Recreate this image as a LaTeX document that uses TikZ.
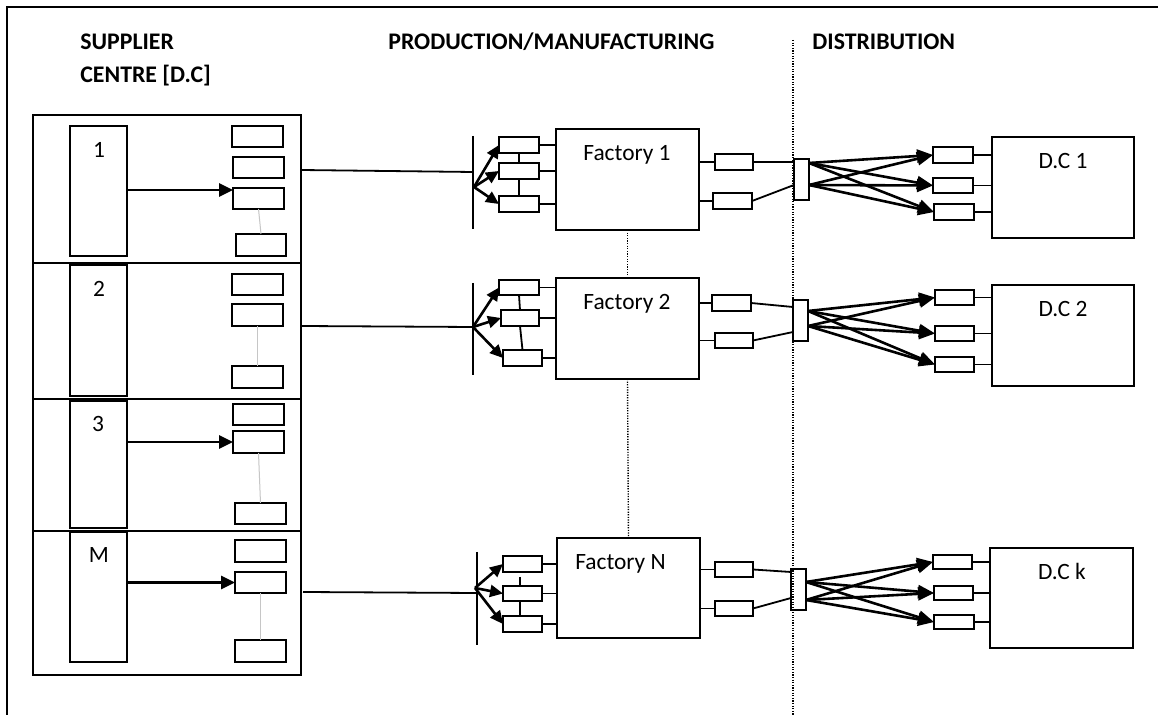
\documentclass[tikz,border=0pt]{standalone}
\usepackage{fontspec}
\setmainfont{Carlito}
\usetikzlibrary{arrows.meta}
\newcommand\bx[6][bx]{\node[#1,minimum width={(#5-#3)*0.5pt},minimum height={(#6-#4)*0.5pt}] (#2) at ({(#3+#5)/2},{(#4+#6)/2}) {};}
\begin{document}
\begin{tikzpicture}[x=0.5pt,y=-0.5pt,
  bx/.style={draw,line width=1pt,inner sep=0pt,outer sep=0pt},
  sarr/.style={line width=1.4pt,-{Triangle[length=7pt,width=6.5pt]}},
  arr/.style={line width=1.3pt,-{Triangle[length=6.5pt,width=6pt]}},
  darr/.style={line width=1.3pt,-{Triangle[length=8pt,width=6.5pt]}},
  ln/.style={line width=0.9pt},
  gr/.style={line width=0.5pt,gray!45},
  dotl/.style={line width=0.7pt,dash pattern=on 0.6pt off 0.7pt},
  hd/.style={font=\bfseries\fontsize{11.9}{14}\selectfont,inner sep=0pt,anchor=base west},
  lb/.style={font=\fontsize{11.7}{14}\selectfont,inner sep=0pt,anchor=base}]
\useasboundingbox[fill=white] (0,0) rectangle (1158,715);
% frame
\coordinate (fr0) at (7,715); \coordinate (fr1) at (7,7); \coordinate (fr2) at (1158,7);
\draw[line width=0.8pt] (fr0) -- (fr1) -- (fr2);
% headings
\node[hd] (h1) at (80,50) {SUPPLIER};
\node[hd] (h2) at (80,83) {CENTRE [D.C]};
\node[hd] (h3) at (388,50) {PRODUCTION/MANUFACTURING};
\node[hd] (h4) at (812,50) {DISTRIBUTION};
% distribution dotted line
\coordinate (dt) at (793,40); \coordinate (db) at (793,715);
\draw[dotl] (dt) -- (db);
% supplier block
\bx{sup}{33}{115}{301}{675}
\coordinate (v1l) at (33,263); \coordinate (v1r) at (301,263);
\coordinate (v2l) at (33,399); \coordinate (v2r) at (301,399);
\coordinate (v3l) at (33,531); \coordinate (v3r) at (301,531);
\draw[ln] (v1l) -- (v1r); \draw[ln] (v2l) -- (v2r); \draw[ln] (v3l) -- (v3r);
\bx{t1}{70}{126}{127}{256}
\bx{t2}{70}{265}{127}{396}
\bx{t3}{70}{401}{127}{528}
\bx{t4}{70}{532}{127}{662}
\node[lb] (n1) at (99,158) {1};
\node[lb] (n2) at (99,297) {2};
\node[lb] (n3) at (98,432) {3};
\node[lb] (n4) at (99,563) {M};
% section 1
\bx{sa1}{232}{126}{283}{147}
\bx{sb1}{233}{157}{284}{178}
\bx{sc1}{233}{188}{284}{209}
\bx{sd1}{236}{234}{286}{256}
\coordinate (ar1) at (127,190);
\draw[sarr] (ar1) -- (ar1 -| sc1.west);
\draw[gr] (sc1.south) -- (sd1.north);
% section 2
\bx{sa2}{232}{274}{283}{295}
\bx{sb2}{232}{304}{283}{326}
\bx{sc2}{232}{366}{283}{388}
\draw[gr] (sb2.south) -- (sc2.north);
% section 3
\bx{sa3}{233}{404}{284}{425}
\bx{sb3}{233}{431}{284}{453}
\bx{sc3}{235}{503}{286}{524}
\draw[sarr] (t3.east |- sb3.west) -- (sb3.west);
\draw[gr] (sb3.south) -- (sc3.north);
% section M
\bx{sa4}{235}{540}{286}{562}
\bx{sb4}{235}{572}{286}{593}
\bx{sc4}{235}{640}{286}{662}
\draw[sarr] (t4.east |- sb4.west) -- (sb4.west);
\draw[gr] (sb4.south) -- (sc4.north);
% ---------- Factory 1
\coordinate (l1s) at (301,170); \coordinate (fi1) at (473,172);
\coordinate (fb1t) at (473,136); \coordinate (fb1b) at (473,229);
\coordinate (fo1) at (474,187);
\draw[ln] (l1s) -- (fi1);
\draw[ln] (fb1t) -- (fb1b);
\bx{s11}{499}{137}{539}{153}
\bx{s12}{499}{163}{539}{179}
\bx{s13}{499}{196}{539}{212}
\bx{F1}{556}{129}{699}{230}
\node[lb] (F1l) at (627,160.5) {Factory 1};
\draw[arr] (fo1) -- (s11.west);
\draw[arr] (fo1) -- (s12.west);
\draw[arr] (fo1) -- (s13.west);
\draw[ln] (s11.south) -- (s12.north);
\draw[ln] (s12.south) -- (s13.north);
\draw[ln] (s11.east) -- (s11.east -| F1.west);
\draw[ln] (s12.east) -- (s12.east -| F1.west);
\draw[ln] (s13.east) -- (s13.east -| F1.west);
\bx{o11}{715}{154}{753}{170}
\bx{o12}{713}{193}{752}{209}
\draw[ln] (F1.east |- o11.west) -- (o11.west);
\draw[ln] (F1.east |- o12.west) -- (o12.west);
\bx{db1}{794}{159}{809}{200}
\coordinate (i11) at (794,162); \coordinate (i12) at (794,185);
\draw[ln] (o11.east) -- (i11);
\draw[ln] (o12.east) -- (i12);
\bx{d11}{933}{147}{973}{163}
\bx{d12}{933}{178}{973}{193}
\bx{d13}{934}{204}{974}{220}
\coordinate (p11) at (809,163); \coordinate (p12) at (809,185);
\foreach \p in {p11,p12}{\foreach \q in {d11,d12,d13}{\draw[darr] (\p) -- (\q.west);}}
\bx{DC1}{992}{137}{1134}{238}
\node[lb] (DC1l) at (1063,169) {D.C 1};
\draw[ln] (d11.east) -- (d11.east -| DC1.west);
\draw[ln] (d12.east) -- (d12.east -| DC1.west);
\draw[ln] (d13.east) -- (d13.east -| DC1.west);
% ---------- Factory 2
\coordinate (l2s) at (301,326); \coordinate (fi2) at (473,327);
\coordinate (fb2t) at (473,283); \coordinate (fb2b) at (473,375);
\draw[ln] (l2s) -- (fi2);
\draw[ln] (fb2t) -- (fb2b);
\bx{s21}{499}{280}{539}{295}
\bx{s22}{501}{310}{539}{326}
\bx{s23}{503}{350}{542}{366}
\bx{F2}{556}{278}{699}{379}
\node[lb] (F2l) at (627,310) {Factory 2};
\draw[arr] (fi2) -- (s21.west);
\draw[arr] (fi2) -- (s22.west);
\draw[arr] (fi2) -- (s23.west);
\draw[ln] (s21.south) -- (s22.north);
\draw[ln] (s22.south) -- (s23.north);
\draw[ln] (s21.east) -- (s21.east -| F2.west);
\draw[ln] (s22.east) -- (s22.east -| F2.west);
\draw[ln] (s23.east) -- (s23.east -| F2.west);
\bx{o21}{712}{295}{751}{311}
\bx{o22}{715}{333}{753}{348}
\draw[ln] (F2.east |- o21.west) -- (o21.west);
\draw[ln] (F2.east |- o22.west) -- (o22.west);
\bx{db2}{793}{300}{808}{341}
\coordinate (i21) at (793,307); \coordinate (i22) at (793,332);
\draw[ln] (o21.east) -- (i21);
\draw[ln] (o22.east) -- (i22);
\bx{d21}{935}{290}{974}{305}
\bx{d22}{935}{326}{974}{341}
\bx{d23}{935}{357}{974}{372}
\coordinate (p21) at (808,311); \coordinate (p22) at (808,326);
\foreach \p in {p21,p22}{\foreach \q in {d21,d22,d23}{\draw[darr] (\p) -- (\q.west);}}
\bx{DC2}{992}{285}{1134}{386}
\node[lb] (DC2l) at (1063,317) {D.C 2};
\draw[ln] (d21.east) -- (d21.east -| DC2.west);
\draw[ln] (d22.east) -- (d22.east -| DC2.west);
\draw[ln] (d23.east) -- (d23.east -| DC2.west);
% ---------- Factory N
\coordinate (l3s) at (303,592); \coordinate (fi3) at (476,593);
\coordinate (fb3t) at (477,552); \coordinate (fb3b) at (477,645);
\coordinate (fo3) at (475,588);
\draw[ln] (l3s) -- (fi3);
\draw[ln] (fb3t) -- (fb3b);
\bx{s31}{503}{556}{542}{572}
\bx{s32}{503}{586}{542}{601}
\bx{s33}{503}{616}{542}{632}
\bx{F3}{557}{538}{700}{638}
\node[lb] (F3l) at (620.5,570) {Factory N};
\draw[arr] (fo3) -- (s31.west);
\draw[arr] (fo3) -- (s32.west);
\draw[arr] (fo3) -- (s33.west);
\coordinate (tk3) at (520,577);
\draw[ln] (tk3) -- (tk3 |- s32.north);
\draw[ln] (s32.south -| tk3) -- (s33.north -| tk3);
\draw[ln] (s31.east) -- (s31.east -| F3.west);
\draw[ln] (s32.east) -- (s32.east -| F3.west);
\draw[ln] (s33.east) -- (s33.east -| F3.west);
\bx{o31}{715}{562}{753}{577}
\bx{o32}{715}{601}{753}{616}
\draw[ln] (F3.east |- o31.west) -- (o31.west);
\draw[ln] (F3.east |- o32.west) -- (o32.west);
\bx{db3}{791}{569}{806}{610}
\coordinate (i31) at (791,572); \coordinate (i32) at (791,598);
\draw[ln] (o31.east) -- (i31);
\draw[ln] (o32.east) -- (i32);
\bx{d31}{933}{555}{972}{569}
\bx{d32}{934}{586}{973}{600}
\bx{d33}{934}{615}{974}{629}
\coordinate (p31) at (806,582); \coordinate (p32) at (806,600);
\foreach \p in {p31,p32}{\foreach \q in {d31,d32,d33}{\draw[darr] (\p) -- (\q.west);}}
\bx{DC3}{990}{548}{1133}{648}
\node[lb] (DC3l) at (1062,580) {D.C k};
\draw[ln] (d31.east) -- (d31.east -| DC3.west);
\draw[ln] (d32.east) -- (d32.east -| DC3.west);
\draw[ln] (d33.east) -- (d33.east -| DC3.west);
% factory dotted links
\draw[dotl] (F1.south) -- (F2.north);
\draw[dotl] (F2.south) -- (F3.north);
\end{tikzpicture}
\end{document}
